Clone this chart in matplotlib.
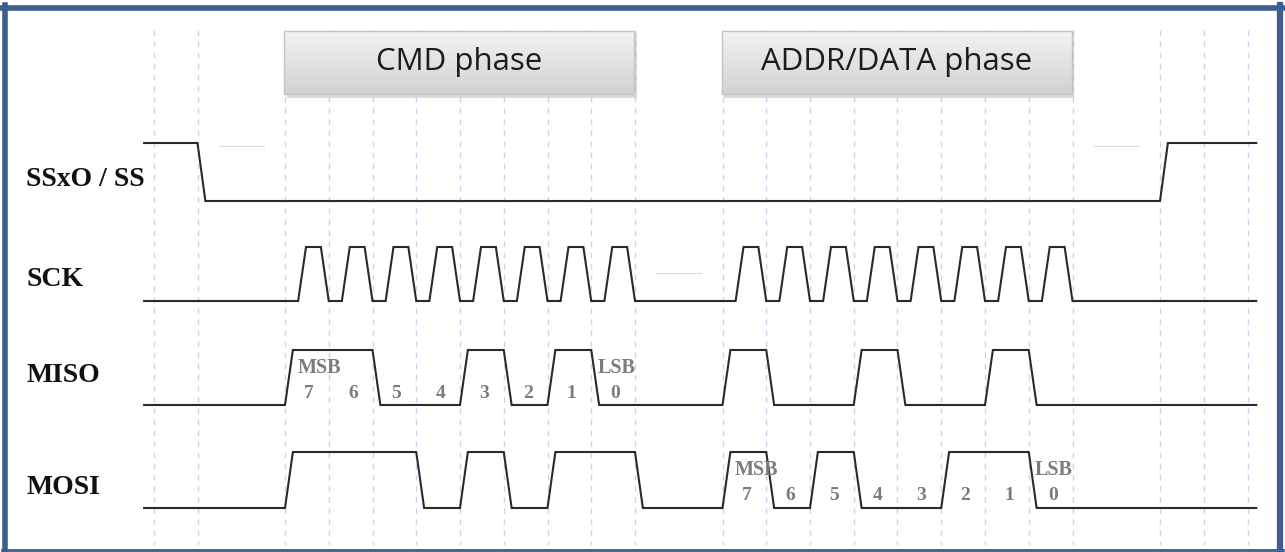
import numpy as np
import matplotlib
matplotlib.use("Agg")
import matplotlib.pyplot as plt
from matplotlib.patches import Rectangle

# signal names and bit values (MSB first) for the two phases
signal_names = ["SSxO/SS", "SCK", "MISO", "MOSI"]
miso_cmd = [1, 1, 0, 0, 1, 0, 1, 0]
mosi_cmd = [1, 1, 1, 0, 1, 0, 1, 1]
miso_addr = [1, 0, 0, 1, 0, 0, 1, 0]
mosi_addr = [1, 0, 1, 0, 0, 1, 1, 0]
bit_labels = ["7", "6", "5", "4", "3", "2", "1", "0"]
phase_names = ["CMD phase", "ADDR/DATA phase"]
phase_starts = [0, 10]
n_bits = 8

# layout: one bit time = 43.75 px, bit 7 of CMD phase starts at x=285 px
PX0, UNIT = 285.0, 43.75
W, H = 1285, 552


def px2t(px):
    return (px - PX0) / UNIT


T_START, T_END = -3.22, 22.2
EDGE = 0.18
# (high, low) y levels in pixels
levels = {"SSxO/SS": (143, 201), "SCK": (247, 301), "MISO": (350, 405), "MOSI": (452, 508)}
label_y = {"SSxO/SS": 180, "SCK": 280, "MISO": 375, "MOSI": 488}

LINE = "#2a2a2a"
GRID = "#c6d6ee"
BITC = "#7c7c7c"


def data_wave(name, cmd_bits, addr_bits):
    hi, lo = levels[name]
    cells = [0] * 18
    for i, b in enumerate(cmd_bits):
        cells[phase_starts[0] + i] = b
    for i, b in enumerate(addr_bits):
        cells[phase_starts[1] + i] = b
    cells.append(0)
    xs, ys = [T_START], [lo]
    prev = 0
    for k, b in enumerate(cells):
        if b != prev:
            xs += [k, k + EDGE]
            ys += [hi if prev else lo, hi if b else lo]
            prev = b
    xs.append(T_END)
    ys.append(hi if prev else lo)
    return xs, ys


def sck_wave():
    hi, lo = levels["SCK"]
    xs, ys = [T_START], [lo]
    for p in phase_starts:
        for k in range(n_bits):
            t = p + k
            xs += [t + 0.3, t + 0.48, t + 0.82, t + 1.0]
            ys += [lo, hi, hi, lo]
    xs.append(T_END)
    ys.append(lo)
    return xs, ys


def ss_wave():
    hi, lo = levels["SSxO/SS"]
    xs = [T_START, -2, -2 + EDGE, 20, 20 + EDGE, T_END]
    ys = [hi, hi, lo, lo, hi, hi]
    return xs, ys


fig = plt.figure(figsize=(W / 100, H / 100), dpi=100)
ax = fig.add_axes([0, 0, 1, 1])
ax.set_xlim(px2t(0), px2t(W))
ax.set_ylim(H, 0)
ax.axis("off")

# dashed vertical grid
grid_t = [-3, -2] + list(range(0, 9)) + list(range(10, 19)) + [20, 21, 22]
for t in grid_t:
    ax.plot([t, t], [30, 545], color=GRID, lw=1.0, ls=(0, (4, 4)), zorder=1)
# faint short horizontal marks
for t, y in [(-1, 146), (19, 146), (9, 273)]:
    ax.plot([t - 0.52, t + 0.52], [y, y], color="#d3dcea", lw=0.8, zorder=1)

# phase boxes with gradient
grad = np.linspace(0.95, 0.82, 64).reshape(-1, 1)
for name, p in zip(phase_names, phase_starts):
    x0, x1 = p - 0.02, p + n_bits - 0.02
    ax.add_patch(Rectangle((x0 + 0.06, 34), x1 - x0, 64, color="#b0b0b0",
                           alpha=0.45, lw=0, zorder=2))
    ax.imshow(grad, cmap="gray", vmin=0, vmax=1, extent=[x0, x1, 94, 31],
              origin="upper", aspect="auto", zorder=3)
    ax.add_patch(Rectangle((x0, 31), x1 - x0, 63, fill=False, ec="#c4c4c4",
                           lw=1.0, zorder=4))
    ax.text((x0 + x1) / 2, 62, name, ha="center", va="center", fontsize=22.5,
            family="Open Sans", color="#1c1c1c", zorder=5)

# waveforms
waves = {
    "SSxO/SS": ss_wave(),
    "SCK": sck_wave(),
    "MISO": data_wave("MISO", miso_cmd, miso_addr),
    "MOSI": data_wave("MOSI", mosi_cmd, mosi_addr),
}
for name in signal_names:
    xs, ys = waves[name]
    ax.plot(xs, ys, color=LINE, lw=1.5, solid_joinstyle="miter", zorder=6)
    # the slash in the select line name is set with wide spacing
    shown = name.replace("/", " / ")
    ax.text(px2t(26), label_y[name], shown, ha="left", va="center",
            fontsize=20, family="Liberation Serif", fontweight="bold",
            color="#111111", zorder=6)

# bit numbers with MSB / LSB marks
for sig, p in [("MISO", phase_starts[0]), ("MOSI", phase_starts[1])]:
    hi, lo = levels[sig]
    for i, lab in enumerate(bit_labels):
        ax.text(p + i + 0.55, hi + 43, lab, ha="center", va="center",
                fontsize=14, family="Liberation Serif", fontweight="bold",
                color=BITC, zorder=7)
    ax.text(p + 0.78, hi + 18, "MSB", ha="center", va="center", fontsize=14.5,
            family="Liberation Serif", fontweight="bold", color=BITC, zorder=7)
    ax.text(p + 7.58, hi + 18, "LSB", ha="center", va="center", fontsize=14.5,
            family="Liberation Serif", fontweight="bold", color=BITC, zorder=7)

# blue frame
FRAME = "#3b5e8c"
ax.plot([px2t(2), px2t(1283)], [7.5, 7.5], color=FRAME, lw=4, zorder=8)
ax.plot([px2t(4.5), px2t(4.5)], [5, 551], color=FRAME, lw=4, zorder=8)
ax.plot([px2t(1280), px2t(1280)], [5, 551], color=FRAME, lw=4.5, zorder=8)
ax.plot([px2t(2), px2t(1283)], [550, 550], color=FRAME, lw=2, zorder=8)

fig.savefig("out.png", dpi=100)
